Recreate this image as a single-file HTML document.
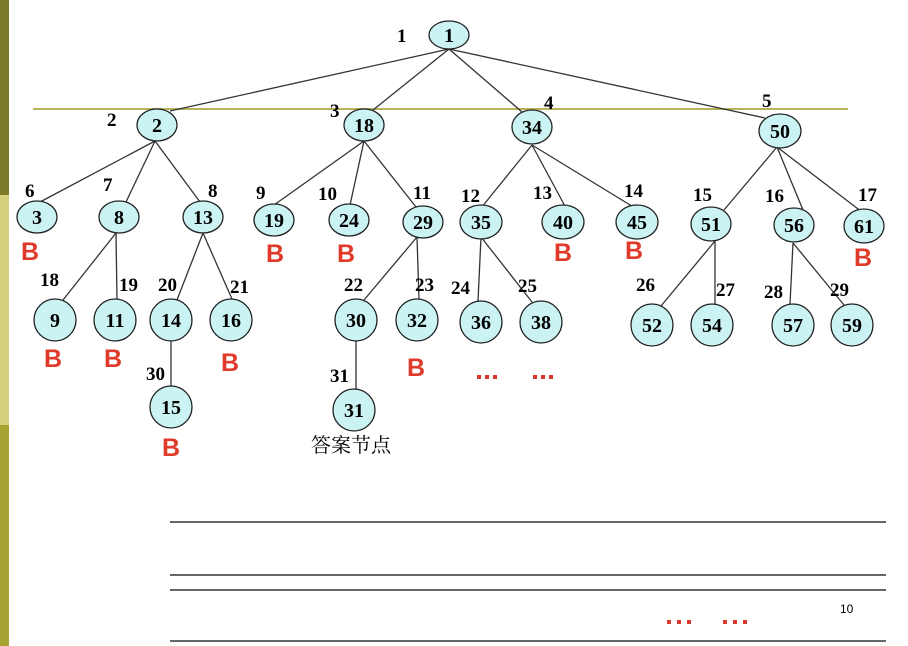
<!DOCTYPE html>
<html><head><meta charset="utf-8"><style>
html,body{margin:0;padding:0;background:#fff;width:908px;height:646px;overflow:hidden}
svg{display:block}
.n{font-family:"Liberation Serif",serif;font-weight:bold;font-size:20px;text-anchor:middle}
.l{font-family:"Liberation Serif",serif;font-weight:bold;font-size:19px}
.b{font-family:"Liberation Sans",sans-serif;font-weight:bold;font-size:25px;fill:#e03a2a}
ellipse,circle{fill:#ccf3f3;stroke:#222;stroke-width:1.3}
line{stroke:#333;stroke-width:1.3}
</style></head><body>
<svg width="908" height="646" viewBox="0 0 908 646">
<rect x="0" y="0" width="9" height="195" fill="#7a7a28"/>
<rect x="0" y="195" width="9" height="230" fill="#d4d07c"/>
<rect x="0" y="425" width="9" height="221" fill="#a8a232"/>
<line x1="33" y1="109" x2="848" y2="109" style="stroke:#b7b35a;stroke-width:2"/>
<g>
<line x1="449" y1="49" x2="170" y2="111"/>
<line x1="449" y1="49" x2="373" y2="110"/>
<line x1="449" y1="49" x2="522" y2="112"/>
<line x1="449" y1="49" x2="765" y2="118"/>
<line x1="155" y1="141" x2="40" y2="202"/>
<line x1="155" y1="141" x2="126" y2="202"/>
<line x1="155" y1="141" x2="200" y2="202"/>
<line x1="364" y1="141" x2="274" y2="205"/>
<line x1="364" y1="141" x2="350" y2="205"/>
<line x1="364" y1="141" x2="416" y2="207"/>
<line x1="532" y1="145" x2="481" y2="208"/>
<line x1="532" y1="145" x2="566" y2="208"/>
<line x1="532" y1="145" x2="635" y2="208"/>
<line x1="777" y1="147" x2="724" y2="210"/>
<line x1="777" y1="147" x2="803" y2="210"/>
<line x1="777" y1="147" x2="862" y2="212"/>
<line x1="116" y1="233" x2="63" y2="300"/>
<line x1="116" y1="233" x2="117" y2="299"/>
<line x1="203" y1="233" x2="177" y2="300"/>
<line x1="203" y1="233" x2="232" y2="299"/>
<line x1="171" y1="341" x2="171" y2="386"/>
<line x1="417" y1="237" x2="364" y2="300"/>
<line x1="417" y1="237" x2="419" y2="299"/>
<line x1="356" y1="341" x2="356" y2="389"/>
<line x1="481" y1="237" x2="478" y2="301"/>
<line x1="481" y1="237" x2="532" y2="302"/>
<line x1="715" y1="241" x2="661" y2="306"/>
<line x1="715" y1="241" x2="715" y2="304"/>
<line x1="793" y1="243" x2="790" y2="304"/>
<line x1="793" y1="243" x2="844" y2="305"/>
</g>
<g>
<ellipse cx="449" cy="35" rx="20" ry="14"/><text class="n" x="449" y="42">1</text>
<ellipse cx="157" cy="125" rx="20" ry="16"/><text class="n" x="157" y="132">2</text>
<ellipse cx="364" cy="125" rx="20" ry="16"/><text class="n" x="364" y="132">18</text>
<ellipse cx="532" cy="127" rx="20" ry="17"/><text class="n" x="532" y="134">34</text>
<ellipse cx="780" cy="131" rx="21" ry="17"/><text class="n" x="780" y="138">50</text>
<ellipse cx="37" cy="217" rx="20" ry="16"/><text class="n" x="37" y="224">3</text>
<ellipse cx="119" cy="217" rx="20" ry="16"/><text class="n" x="119" y="224">8</text>
<ellipse cx="203" cy="217" rx="20" ry="16"/><text class="n" x="203" y="224">13</text>
<ellipse cx="274" cy="220" rx="20" ry="16"/><text class="n" x="274" y="227">19</text>
<ellipse cx="349" cy="220" rx="20" ry="16"/><text class="n" x="349" y="227">24</text>
<ellipse cx="423" cy="222" rx="20" ry="16"/><text class="n" x="423" y="229">29</text>
<ellipse cx="481" cy="222" rx="21" ry="17"/><text class="n" x="481" y="229">35</text>
<ellipse cx="563" cy="222" rx="21" ry="17"/><text class="n" x="563" y="229">40</text>
<ellipse cx="637" cy="222" rx="21" ry="17"/><text class="n" x="637" y="229">45</text>
<ellipse cx="711" cy="224" rx="20" ry="17"/><text class="n" x="711" y="231">51</text>
<ellipse cx="794" cy="225" rx="20" ry="17"/><text class="n" x="794" y="232">56</text>
<ellipse cx="864" cy="226" rx="20" ry="17"/><text class="n" x="864" y="233">61</text>
<circle cx="55" cy="320" r="21"/><text class="n" x="55" y="327">9</text>
<circle cx="115" cy="320" r="21"/><text class="n" x="115" y="327">11</text>
<circle cx="171" cy="320" r="21"/><text class="n" x="171" y="327">14</text>
<circle cx="231" cy="320" r="21"/><text class="n" x="231" y="327">16</text>
<circle cx="356" cy="320" r="21"/><text class="n" x="356" y="327">30</text>
<circle cx="417" cy="320" r="21"/><text class="n" x="417" y="327">32</text>
<circle cx="481" cy="322" r="21"/><text class="n" x="481" y="329">36</text>
<circle cx="541" cy="322" r="21"/><text class="n" x="541" y="329">38</text>
<circle cx="652" cy="325" r="21"/><text class="n" x="652" y="332">52</text>
<circle cx="712" cy="325" r="21"/><text class="n" x="712" y="332">54</text>
<circle cx="793" cy="325" r="21"/><text class="n" x="793" y="332">57</text>
<circle cx="852" cy="325" r="21"/><text class="n" x="852" y="332">59</text>
<circle cx="171" cy="407" r="21"/><text class="n" x="171" y="414">15</text>
<circle cx="354" cy="410" r="21"/><text class="n" x="354" y="417">31</text>
</g>
<g class="l">
<text x="397" y="42">1</text>
<text x="107" y="126">2</text>
<text x="330" y="117">3</text>
<text x="544" y="109">4</text>
<text x="762" y="107">5</text>
<text x="25" y="197">6</text>
<text x="103" y="191">7</text>
<text x="208" y="197">8</text>
<text x="256" y="199">9</text>
<text x="318" y="200">10</text>
<text x="413" y="199">11</text>
<text x="461" y="202">12</text>
<text x="533" y="199">13</text>
<text x="624" y="197">14</text>
<text x="693" y="201">15</text>
<text x="765" y="202">16</text>
<text x="858" y="201">17</text>
<text x="40" y="286">18</text>
<text x="119" y="291">19</text>
<text x="158" y="291">20</text>
<text x="230" y="293">21</text>
<text x="344" y="291">22</text>
<text x="415" y="291">23</text>
<text x="451" y="294">24</text>
<text x="518" y="292">25</text>
<text x="636" y="291">26</text>
<text x="716" y="296">27</text>
<text x="764" y="298">28</text>
<text x="830" y="296">29</text>
<text x="146" y="380">30</text>
<text x="330" y="382">31</text>
</g>
<g class="b">
<text x="21" y="260">B</text>
<text x="266" y="262">B</text>
<text x="337" y="262">B</text>
<text x="554" y="261">B</text>
<text x="625" y="259">B</text>
<text x="854" y="266">B</text>
<text x="44" y="367">B</text>
<text x="104" y="367">B</text>
<text x="221" y="371">B</text>
<text x="407" y="376">B</text>
<text x="162" y="456">B</text>
</g>
<g fill="#d63a2a">
<rect x="477" y="375" width="4" height="4"/><rect x="485" y="375" width="4" height="4"/><rect x="493" y="375" width="4" height="4"/>
<rect x="533" y="375" width="4" height="4"/><rect x="541" y="375" width="4" height="4"/><rect x="549" y="375" width="4" height="4"/>
<rect x="667" y="620" width="4" height="4"/><rect x="677" y="620" width="4" height="4"/><rect x="687" y="620" width="4" height="4"/>
<rect x="723" y="620" width="4" height="4"/><rect x="733" y="620" width="4" height="4"/><rect x="743" y="620" width="4" height="4"/>
</g>
<text x="311" y="452" style="font-family:'Noto Serif CJK SC','Noto Sans CJK SC',serif;font-size:20px">答案节点</text>
<text x="840" y="613" style="font-family:'Liberation Sans',sans-serif;font-size:12px">10</text>
<g>
<line x1="170" y1="522" x2="886" y2="522" style="stroke:#333;stroke-width:1.5"/>
<line x1="170" y1="575" x2="886" y2="575" style="stroke:#333;stroke-width:1.5"/>
<line x1="170" y1="590" x2="886" y2="590" style="stroke:#333;stroke-width:1.5"/>
<line x1="170" y1="641" x2="886" y2="641" style="stroke:#333;stroke-width:1.5"/>
</g>
</svg>
</body></html>
